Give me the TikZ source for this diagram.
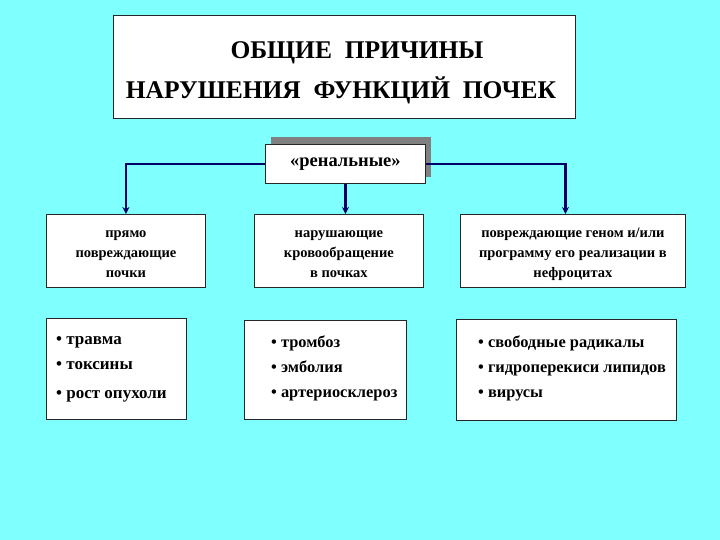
\documentclass[tikz,border=0pt]{standalone}
\usepackage{fontspec}
\setmainfont{Liberation Serif}
\usetikzlibrary{arrows.meta}
\definecolor{bgcyan}{RGB}{128,255,255}
\definecolor{navy}{RGB}{0,0,102}
\definecolor{shadowgray}{RGB}{128,128,128}
\tikzset{
  box/.style={draw=black!85, line width=0.8pt, fill=white, anchor=north west, inner sep=0pt},
  lvltwo/.style={font=\fontsize{14.5}{20}\selectfont\bfseries, align=center},
  titletxt/.style={font=\fontsize{25.5}{30}\selectfont\bfseries},
  listtxt/.style={font=\fontsize{16.4}{25}\selectfont\bfseries, align=left, anchor=north west, inner sep=0pt},
  conn/.style={draw=navy, line width=2.6pt, -{Stealth[length=7pt,width=7pt]}},
}
\begin{document}
\begin{tikzpicture}[x=1pt,y=-1pt]
\useasboundingbox[fill=bgcyan] (0,0) rectangle (720,540);
% title
\node[box, minimum width=462, minimum height=103] (title) at (113,15) {};
\node[titletxt] (titleone) at (357,53) {ОБЩИЕ\ \ ПРИЧИНЫ};
\node[titletxt] (titletwo) at (341,90) {НАРУШЕНИЯ\ \ ФУНКЦИЙ\ \ ПОЧЕК};
% renal box with shadow
\fill[shadowgray] (271,137) rectangle (431,177);
\node[box, minimum width=160, minimum height=39, font=\fontsize{18.5}{20}\selectfont\bfseries] (renal) at (265,144) {«ренальные»};
% level two
\node[box, minimum width=159, minimum height=73] (b1) at (46,214) {};
\node[lvltwo] (t1) at ([yshift=-3pt]b1.center) {прямо\\повреждающие\\почки};
\node[box, minimum width=169, minimum height=73] (b2) at (254,214) {};
\node[lvltwo] (t2) at ([yshift=-3pt]b2.center) {нарушающие\\кровообращение\\в почках};
\node[box, minimum width=225, minimum height=73] (b3) at (460,214) {};
\node[lvltwo] (t3) at ([yshift=-3pt]b3.center) {повреждающие геном и/или\\программу его реализации в\\нефроцитах};
% level three
\node[box, minimum width=140, minimum height=101] (b4) at (46,318) {};
\node[listtxt, font=\fontsize{17}{25}\selectfont\bfseries] (t4) at (56,336) {• травма\\• токсины\\[4pt]• рост опухоли};
\node[box, minimum width=162, minimum height=99] (b5) at (244,320) {};
\node[listtxt] (t5) at (271,336) {• тромбоз\\• эмболия\\• артериосклероз};
\node[box, minimum width=220, minimum height=101] (b6) at (456,319) {};
\node[listtxt] (t6) at (478,336) {• свободные радикалы\\• гидроперекиси липидов\\• вирусы};
% connectors
\draw[conn] (renal.west) -| (b1.north);
\draw[conn] (renal.east) -| ([xshift=-7.5pt]b3.north);
\draw[conn] (renal.south) -- (renal.south |- b2.north);
\end{tikzpicture}
\end{document}
